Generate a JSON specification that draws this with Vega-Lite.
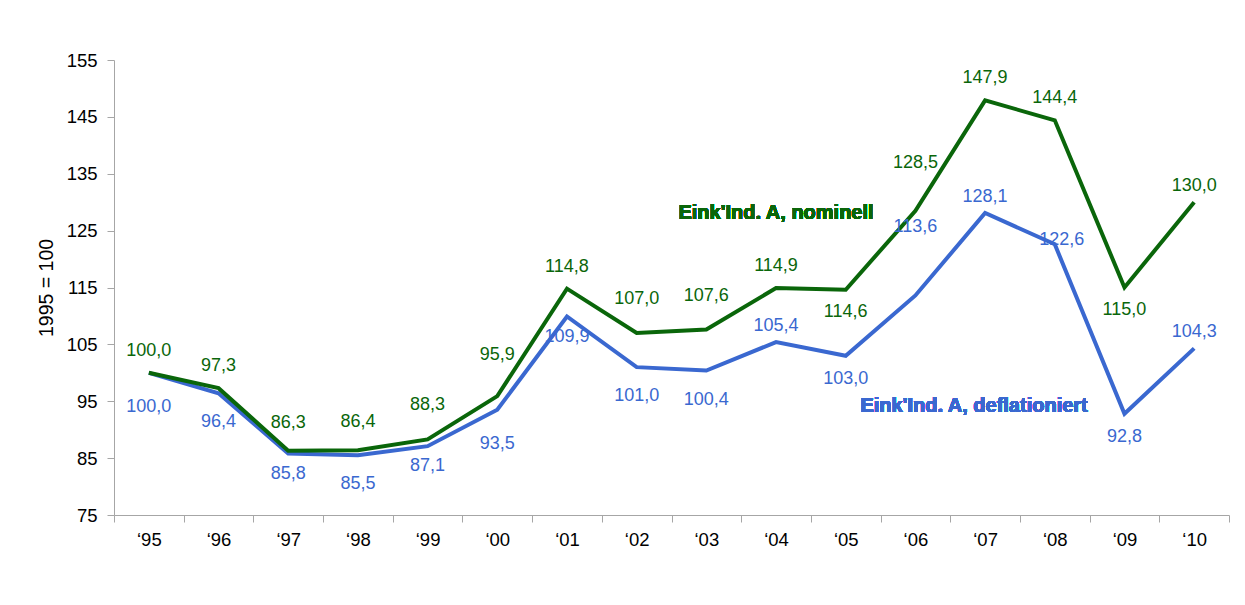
{
  "$schema": "https://vega.github.io/schema/vega-lite/v6.json",
  "width": 1115,
  "height": 455,
  "autosize": {"type": "none"},
  "padding": {"left": 114, "top": 60, "right": 16, "bottom": 90},
  "background": "white",
  "config": {
    "view": {"stroke": null},
    "font": "Liberation Sans",
    "locale": {"number": {"decimal": ",", "thousands": ".", "grouping": [3], "currency": ["", " €"]}},
    "axis": {"grid": false, "domainColor": "#a6a6a6", "tickColor": "#a6a6a6", "labelColor": "#000000", "labelFont": "Liberation Sans", "labelFontSize": 18.5, "titleFont": "Liberation Sans", "titleFontWeight": "normal", "titleColor": "#000000"},
    "text": {"fontSize": 18, "baseline": "middle"}
  },
  "data": {
    "values": [
      {"year": "‘95", "series": "nominell", "value": 100.0},
      {"year": "‘96", "series": "nominell", "value": 97.3},
      {"year": "‘97", "series": "nominell", "value": 86.3},
      {"year": "‘98", "series": "nominell", "value": 86.4},
      {"year": "‘99", "series": "nominell", "value": 88.3},
      {"year": "‘00", "series": "nominell", "value": 95.9},
      {"year": "‘01", "series": "nominell", "value": 114.8},
      {"year": "‘02", "series": "nominell", "value": 107.0},
      {"year": "‘03", "series": "nominell", "value": 107.6},
      {"year": "‘04", "series": "nominell", "value": 114.9},
      {"year": "‘05", "series": "nominell", "value": 114.6},
      {"year": "‘06", "series": "nominell", "value": 128.5},
      {"year": "‘07", "series": "nominell", "value": 147.9},
      {"year": "‘08", "series": "nominell", "value": 144.4},
      {"year": "‘09", "series": "nominell", "value": 115.0},
      {"year": "‘10", "series": "nominell", "value": 130.0},
      {"year": "‘95", "series": "deflationiert", "value": 100.0},
      {"year": "‘96", "series": "deflationiert", "value": 96.4},
      {"year": "‘97", "series": "deflationiert", "value": 85.8},
      {"year": "‘98", "series": "deflationiert", "value": 85.5},
      {"year": "‘99", "series": "deflationiert", "value": 87.1},
      {"year": "‘00", "series": "deflationiert", "value": 93.5},
      {"year": "‘01", "series": "deflationiert", "value": 109.9},
      {"year": "‘02", "series": "deflationiert", "value": 101.0},
      {"year": "‘03", "series": "deflationiert", "value": 100.4},
      {"year": "‘04", "series": "deflationiert", "value": 105.4},
      {"year": "‘05", "series": "deflationiert", "value": 103.0},
      {"year": "‘06", "series": "deflationiert", "value": 113.6},
      {"year": "‘07", "series": "deflationiert", "value": 128.1},
      {"year": "‘08", "series": "deflationiert", "value": 122.6},
      {"year": "‘09", "series": "deflationiert", "value": 92.8},
      {"year": "‘10", "series": "deflationiert", "value": 104.3}
    ]
  },
  "encoding": {
    "x": {
      "field": "year", "type": "ordinal", "sort": null, "bandPosition": 0.5,
      "scale": {"type": "band", "paddingInner": 0, "paddingOuter": 0},
      "axis": {"title": null, "labelAngle": 0, "tickBand": "extent", "tickSize": 7, "labelPadding": 8, "domainColor": "#a6a6a6"}
    },
    "y": {
      "field": "value", "type": "quantitative",
      "scale": {"domain": [75, 155], "nice": false, "zero": false},
      "axis": {"title": "1995 = 100", "titleFontSize": 19.5, "titlePadding": 10, "values": [75, 85, 95, 105, 115, 125, 135, 145, 155], "tickSize": 7, "labelPadding": 10}
    },
    "color": {
      "field": "series", "type": "nominal",
      "scale": {"domain": ["nominell", "deflationiert"], "range": ["#0a660a", "#3a68d0"]},
      "legend": null
    },
    "text": {"field": "value", "type": "quantitative", "format": ".1f"}
  },
  "layer": [
    {"mark": {"type": "line", "strokeWidth": 4, "strokeJoin": "miter"}, "transform": [{"filter": "datum.series === 'deflationiert'"}]},
    {"mark": {"type": "line", "strokeWidth": 4, "strokeJoin": "miter"}, "transform": [{"filter": "datum.series === 'nominell'"}]},
    {"mark": {"type": "text", "dy": -16}, "transform": [{"filter": "datum.series === 'nominell' && datum.year === '‘10'"}]},
    {"mark": {"type": "text", "dy": -22}, "transform": [{"filter": "datum.series === 'nominell' && indexof(['‘95','‘96','‘01','‘04','‘07','‘08'], datum.year) >= 0"}]},
    {"mark": {"type": "text", "dy": -28}, "transform": [{"filter": "datum.series === 'nominell' && indexof(['‘97','‘98'], datum.year) >= 0"}]},
    {"mark": {"type": "text", "dy": -34}, "transform": [{"filter": "datum.series === 'nominell' && indexof(['‘99','‘02','‘03'], datum.year) >= 0"}]},
    {"mark": {"type": "text", "dy": -41}, "transform": [{"filter": "datum.series === 'nominell' && datum.year === '‘00'"}]},
    {"mark": {"type": "text", "dy": -48}, "transform": [{"filter": "datum.series === 'nominell' && datum.year === '‘06'"}]},
    {"mark": {"type": "text", "dy": 22}, "transform": [{"filter": "datum.series === 'nominell' && indexof(['‘05','‘09'], datum.year) >= 0"}]},
    {"mark": {"type": "text", "dy": 20}, "transform": [{"filter": "datum.series === 'deflationiert' && indexof(['‘97','‘99','‘01'], datum.year) >= 0"}]},
    {"mark": {"type": "text", "dy": 23}, "transform": [{"filter": "datum.series === 'deflationiert' && indexof(['‘05','‘09'], datum.year) >= 0"}]},
    {"mark": {"type": "text", "dy": 29}, "transform": [{"filter": "datum.series === 'deflationiert' && indexof(['‘96','‘98','‘02','‘03'], datum.year) >= 0"}]},
    {"mark": {"type": "text", "dy": 34}, "transform": [{"filter": "datum.series === 'deflationiert' && indexof(['‘95','‘00'], datum.year) >= 0"}]},
    {"mark": {"type": "text", "dy": -16}, "transform": [{"filter": "datum.series === 'deflationiert' && indexof(['‘04','‘07','‘10'], datum.year) >= 0"}]},
    {"mark": {"type": "text", "dy": -4, "dx": 7}, "transform": [{"filter": "datum.series === 'deflationiert' && datum.year === '‘08'"}]},
    {"mark": {"type": "text", "dy": -68}, "transform": [{"filter": "datum.series === 'deflationiert' && datum.year === '‘06'"}]},
    {
      "mark": {"type": "text", "fontSize": 20, "fontWeight": "bold", "color": "#0a660a"},
      "encoding": {"x": {"datum": "‘04", "type": "ordinal", "bandPosition": 0.5}, "y": {"datum": 128.1}, "text": {"value": "Eink'Ind. A, nominell"}, "color": {"value": "#0a660a"}}
    },
    {
      "mark": {"type": "text", "fontSize": 20, "fontWeight": "bold", "dx": -11, "color": "#3a68d0"},
      "encoding": {"x": {"datum": "‘07", "type": "ordinal", "bandPosition": 0.5}, "y": {"datum": 94.2}, "text": {"value": "Eink'Ind. A, deflationiert"}, "color": {"value": "#3a68d0"}}
    }
  ]
}
